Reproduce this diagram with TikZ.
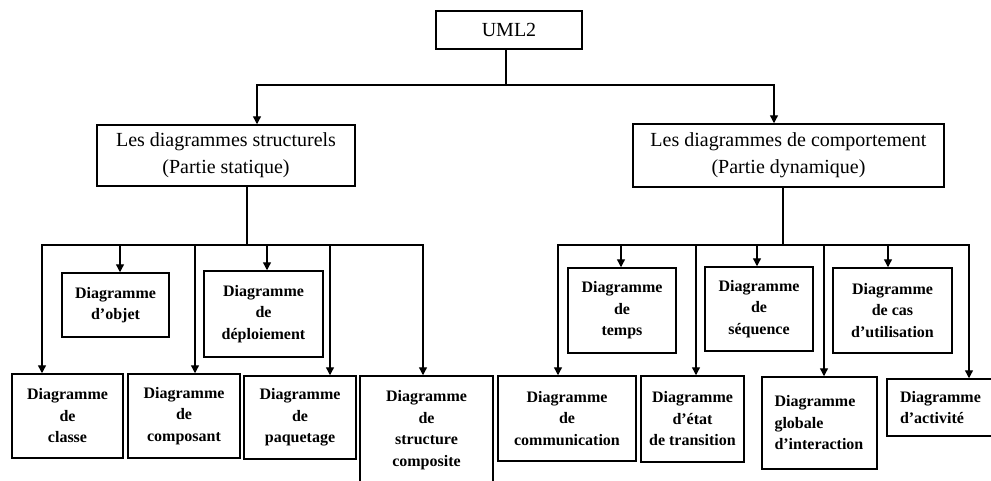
\documentclass[tikz,border=0pt]{standalone}
\usepackage{fontspec}
\setmainfont{Liberation Serif}
\usetikzlibrary{arrows.meta}
\begin{document}
\begin{tikzpicture}[x=1pt,y=-1pt,
  box/.style={draw, line width=1.5pt, inner sep=2pt, align=center},
  title/.style={box, font=\fontsize{20}{27}\selectfont},
  leaf/.style={box, font=\fontsize{16}{21.5}\selectfont\bfseries},
  leftleaf/.style={leaf, align=left, inner xsep=12pt},
  wire/.style={line width=1.3pt},
  arr/.style={wire, -{Triangle[length=8pt,width=8pt]}},
]
\useasboundingbox (0,0) rectangle (991,480);

% root and the two families
\node[title, minimum width=146pt, minimum height=38pt] (uml) at (509,30) {UML2};
\node[title, minimum width=258pt, minimum height=61pt] (s) at (226,155.5)
  {Les diagrammes structurels\\(Partie statique)};
\node[title, minimum width=311pt, minimum height=63pt] (c) at (788.5,155.5)
  {Les diagrammes de comportement\\(Partie dynamique)};

% structural diagrams
\node[leaf, minimum width=107pt, minimum height=64pt] (objet) at (115.5,305)
  {Diagramme\\d’objet};
\node[leaf, minimum width=119pt, minimum height=86pt] (deploi) at (263.5,314)
  {Diagramme\\de\\déploiement};
\node[leaf, minimum width=111pt, minimum height=84pt] (classe) at (67.5,416)
  {Diagramme\\de\\classe};
\node[leaf, minimum width=112pt, minimum height=84pt] (compo) at (184,416)
  {Diagramme\\de\\composant};
\node[leaf, minimum width=112pt, minimum height=83pt] (paquet) at (300,417.5)
  {Diagramme\\de\\paquetage};
\node[leaf, minimum width=133pt, minimum height=108pt] (struct) at (426.5,430)
  {Diagramme\\de\\structure\\composite};

% behavioural diagrams
\node[leaf, minimum width=108pt, minimum height=85pt] (temps) at (622,310.5)
  {Diagramme\\de\\temps};
\node[leaf, minimum width=108pt, minimum height=84pt] (seq) at (759,309)
  {Diagramme\\de\\séquence};
\node[leaf, minimum width=119pt, minimum height=85pt] (cas) at (892.5,310.5)
  {Diagramme\\de cas\\d’utilisation};
\node[leaf, minimum width=138pt, minimum height=85pt] (comm) at (567,418.5)
  {Diagramme\\de\\communication};
\node[leaf, minimum width=103pt, minimum height=86pt] (etat) at (692.5,419)
  {Diagramme\\d’état\\de transition};
\node[leftleaf, text width=90pt, minimum width=115pt, minimum height=92pt] (glob) at (819.5,423)
  {Diagramme\\globale\\d’interaction};
\node[leftleaf, inner xsep=13pt, text width=82pt, minimum width=108pt, minimum height=57pt] (activ) at (941,407.5)
  {Diagramme\\d’activité};

% junction points
\coordinate (top) at (506,85);
\coordinate (busL) at (247,245);
\coordinate (busR) at (783,245);

% root to families
\draw[wire] (uml.south -| top) -- (top);
\draw[arr] (top) -| ([xshift=31pt]s.north);
\draw[arr] (top) -| ([xshift=-14.5pt]c.north);

% structural branch
\draw[wire] (s.south -| busL) -- (busL);
\draw[arr] (busL) -| ([xshift=-25.5pt]classe.north);
\draw[arr] (busL) -| ([xshift=4.5pt]objet.north);
\draw[arr] (busL) -| ([xshift=11pt]compo.north);
\draw[arr] (busL) -| ([xshift=3.5pt]deploi.north);
\draw[arr] (busL) -| ([xshift=30pt]paquet.north);
\draw[arr] (busL) -| ([xshift=-3.5pt]struct.north);

% behavioural branch
\draw[wire] (c.south -| busR) -- (busR);
\draw[arr] (busR) -| ([xshift=-9pt]comm.north);
\draw[arr] (busR) -| ([xshift=-1pt]temps.north);
\draw[arr] (busR) -| ([xshift=3.5pt]etat.north);
\draw[arr] (busR) -| ([xshift=-2pt]seq.north);
\draw[arr] (busR) -| ([xshift=4.5pt]glob.north);
\draw[arr] (busR) -| ([xshift=-4.5pt]cas.north);
\draw[arr] (busR) -| ([xshift=28pt]activ.north);
\end{tikzpicture}
\end{document}
